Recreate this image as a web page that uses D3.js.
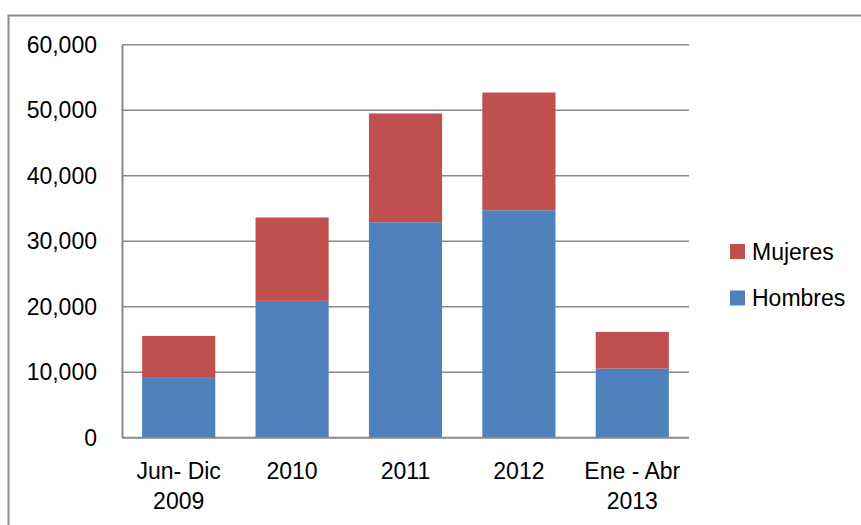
<!DOCTYPE html>
<html>
<head>
<meta charset="utf-8">
<script src="https://cdn.jsdelivr.net/npm/d3@7"></script>
<style>
  html, body { margin: 0; padding: 0; background: #fff; }
  svg { display: block; font-family: "Liberation Sans", Arial, sans-serif; }
</style>
</head>
<body>
<svg id="chart" width="861" height="525"></svg>
<script>
// Periods on the x axis (two-line labels)
const categories = ["Jun- Dic|2009", "2010", "2011", "2012", "Ene - Abr|2013"];
// Stacked series, bottom to top
const hombres = [9130, 20890, 32900, 34730, 10560];
const mujeres = [6410, 12730, 16600, 17970, 5590];
const seriesNames = ["Hombres", "Mujeres"];
const seriesColors = ["#4f81bd", "#c0504d"];
const yTicks = [0, 10000, 20000, 30000, 40000, 50000, 60000];

const svg = d3.select("#chart");
const margin = { left: 122, right: 861 - 689, top: 44.7, bottom: 525 - 437.7 };
const W = 861, H = 525;
const FS = 23;

// Outer frame (top and left edges)
svg.append("path")
  .attr("d", `M8.5,${H} V15.5 H${W}`)
  .attr("fill", "none").attr("stroke", "#8c8c8c").attr("stroke-width", 2);

const x = d3.scaleBand()
  .domain(categories)
  .range([margin.left, W - margin.right])
  .paddingInner(0.355).paddingOuter(0.1775);

const y = d3.scaleLinear().domain([0, 60000]).range([H - margin.bottom, margin.top]);

// Gridlines
svg.append("g").selectAll("line").data(yTicks.filter(d => d > 0)).join("line")
  .attr("x1", margin.left).attr("x2", W - margin.right)
  .attr("y1", d => y(d)).attr("y2", d => y(d))
  .attr("stroke", "#8a8a8a").attr("stroke-width", 1.5);

// Stacked bars
const rows = categories.map((c, i) => ({ cat: c, Hombres: hombres[i], Mujeres: mujeres[i] }));
const stack = d3.stack().keys(seriesNames)(rows);
svg.append("g").selectAll("g").data(stack).join("g")
  .attr("fill", (d, i) => seriesColors[i])
  .selectAll("rect").data(d => d).join("rect")
  .attr("x", d => x(d.data.cat))
  .attr("width", x.bandwidth())
  .attr("y", d => y(d[1]))
  .attr("height", d => y(d[0]) - y(d[1]));

// Y axis
const yAxis = svg.append("g")
  .attr("transform", `translate(${margin.left},0)`)
  .call(d3.axisLeft(y).tickValues(yTicks).tickFormat(d3.format(",")).tickSize(0).tickPadding(25));
yAxis.select(".domain").attr("stroke", "#888").attr("stroke-width", 2);
yAxis.selectAll("text").attr("font-size", FS).attr("fill", "#000")
  .attr("font-family", "'Liberation Sans', Arial, sans-serif");

// X axis
const xAxis = svg.append("g")
  .attr("transform", `translate(0,${y(0)})`)
  .call(d3.axisBottom(x).tickSize(0).tickFormat(""));
xAxis.select(".domain").attr("stroke", "#888").attr("stroke-width", 2)
  .attr("d", `M${margin.left},0H${W - margin.right}`);

// Category labels, split onto two lines where needed
const lab = svg.append("g").selectAll("text").data(categories).join("text")
  .attr("x", d => x(d) + x.bandwidth() / 2)
  .attr("y", y(0) + 41)
  .attr("text-anchor", "middle")
  .attr("font-size", FS).attr("fill", "#000");
lab.each(function (d) {
  const parts = d.split("|");
  const t = d3.select(this);
  parts.forEach((p, k) => {
    t.append("tspan").attr("x", x(d) + x.bandwidth() / 2).attr("dy", k === 0 ? 0 : 30).text(p);
  });
});

// Legend (top series first)
const legendItems = [
  { name: seriesNames[1], color: seriesColors[1] },
  { name: seriesNames[0], color: seriesColors[0] }
];
const lg = svg.append("g").selectAll("g").data(legendItems).join("g")
  .attr("transform", (d, i) => `translate(730,${244 + i * 46.5})`);
lg.append("rect").attr("width", 15).attr("height", 15).attr("fill", d => d.color);
lg.append("text").attr("x", 22).attr("y", 15.5).attr("font-size", FS).attr("fill", "#000")
  .text(d => d.name);
</script>
</body>
</html>
